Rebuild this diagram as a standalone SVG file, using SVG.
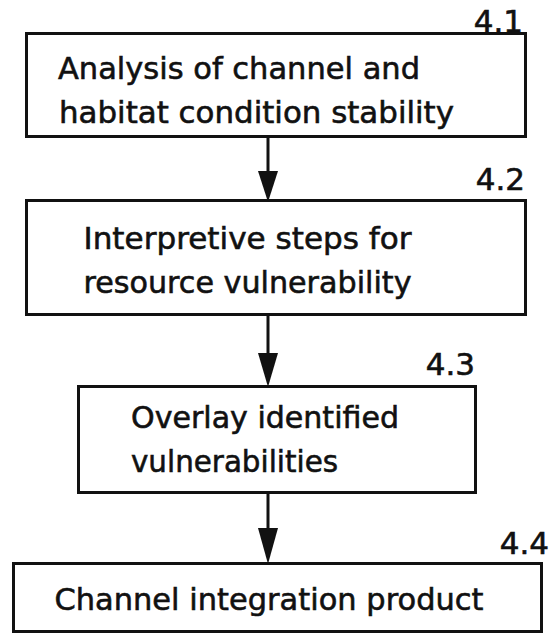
<svg xmlns="http://www.w3.org/2000/svg" width="553" height="634" viewBox="0 0 553 634">
<style>
.box{fill:#fff;stroke:#111;stroke-width:3}
.t{font-family:"DejaVu Sans",sans-serif;font-size:31px;fill:#111;stroke:#111;stroke-width:0.6}
.n{font-family:"DejaVu Sans",sans-serif;font-size:31px;fill:#111;stroke:#111;stroke-width:0.6;text-anchor:end}
.c{stroke:#111;stroke-width:3;fill:none}
.h{fill:#111;stroke:none}
</style>
<rect width="553" height="634" fill="#fff"/>
<g id="connectors">
<line class="c" x1="268" y1="137" x2="268" y2="175"/>
<polygon class="h" points="258,171 278,171 268,202"/>
<line class="c" x1="268" y1="315" x2="268" y2="356"/>
<polygon class="h" points="258,353 278,353 268,387"/>
<line class="c" x1="268" y1="493" x2="268" y2="531"/>
<polygon class="h" points="258,528 278,528 268,564"/>
</g>
<g id="node-4-1">
<rect class="box" x="26.5" y="33.5" width="499" height="103"/>
<text class="n" x="523" y="32">4.1</text>
<text class="t" x="58" y="79" textLength="362" lengthAdjust="spacingAndGlyphs">Analysis of channel and</text>
<text class="t" x="59" y="122.5" textLength="395" lengthAdjust="spacingAndGlyphs">habitat condition stability</text>
</g>
<g id="node-4-2">
<rect class="box" x="26.5" y="200.5" width="499" height="114"/>
<text class="n" x="525" y="190">4.2</text>
<text class="t" x="83.5" y="249" textLength="328" lengthAdjust="spacingAndGlyphs">Interpretive steps for</text>
<text class="t" x="83.5" y="292.5" textLength="328" lengthAdjust="spacingAndGlyphs">resource vulnerability</text>
</g>
<g id="node-4-3">
<rect class="box" x="78.5" y="386.5" width="397" height="106"/>
<text class="n" x="475" y="375">4.3</text>
<text class="t" x="131" y="428" textLength="268" lengthAdjust="spacingAndGlyphs">Overlay identified</text>
<text class="t" x="131" y="471.5" textLength="207" lengthAdjust="spacingAndGlyphs">vulnerabilities</text>
</g>
<g id="node-4-4">
<rect class="box" x="13.5" y="563.5" width="528" height="68"/>
<text class="n" x="549" y="554">4.4</text>
<text class="t" x="54.5" y="610" textLength="429" lengthAdjust="spacingAndGlyphs">Channel integration product</text>
</g>
</svg>
